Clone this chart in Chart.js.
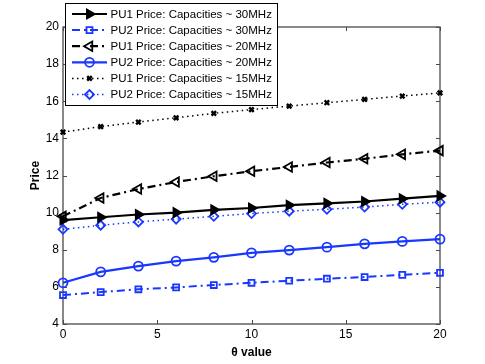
<!DOCTYPE html>
<html>
<head>
<meta charset="utf-8">
<script src="https://cdn.jsdelivr.net/npm/chart.js@4/dist/chart.umd.min.js"></script>
<style>
html,body{margin:0;padding:0;background:#fff;}
canvas{display:block;}
</style>
</head>
<body>
<canvas id="c" width="485" height="364"></canvas>
<script>
const thetaValues = [0, 2, 4, 6, 8, 10, 12, 14, 16, 18, 20];
const pu1Cap30 = [9.6, 9.75, 9.9, 10.0, 10.15, 10.25, 10.4, 10.5, 10.6, 10.75, 10.9];
const pu2Cap30 = [5.56, 5.72, 5.87, 5.97, 6.1, 6.22, 6.33, 6.44, 6.53, 6.65, 6.76];
const pu1Cap20 = [9.8, 10.79, 11.27, 11.65, 11.96, 12.23, 12.46, 12.7, 12.9, 13.14, 13.34];
const pu2Cap20 = [6.22, 6.81, 7.12, 7.39, 7.59, 7.83, 7.98, 8.14, 8.32, 8.45, 8.57];
const pu1Cap15 = [14.34, 14.63, 14.88, 15.11, 15.35, 15.55, 15.74, 15.92, 16.1, 16.28, 16.45];
const pu2Cap15 = [9.1, 9.32, 9.5, 9.65, 9.8, 9.95, 10.08, 10.18, 10.3, 10.45, 10.56];
const seriesLabels = [
  'PU1 Price: Capacities ~ 30MHz',
  'PU2 Price: Capacities ~ 30MHz',
  'PU1 Price: Capacities ~ 20MHz',
  'PU2 Price: Capacities ~ 20MHz',
  'PU1 Price: Capacities ~ 15MHz',
  'PU2 Price: Capacities ~ 15MHz'
];
const xTickValues = [0, 5, 10, 15, 20];
const yTickValues = [4, 6, 8, 10, 12, 14, 16, 18, 20];
const xTitle = 'θ value';
const yTitle = 'Price';

const BLACK = '#000000';
const BLUE = 'rgb(25,55,255)';
const FONT = '"Liberation Sans", Arial, Helvetica, sans-serif';
const DOT = [1.5, 3.5];
const DASHDOT = [8, 4, 2, 4];

function pts(arr) { return thetaValues.map((t, i) => ({x: t, y: arr[i]})); }

const styles = [
  {data: pu1Cap30, color: BLACK, dash: [], width: 2.2, pointStyle: 'triangle', rot: 90, radius: 5.5, fill: BLACK, pbw: 1.5},
  {data: pu2Cap30, color: BLUE, dash: DASHDOT, width: 2, pointStyle: 'rect', rot: 0, radius: 4.2, fill: 'rgba(0,0,0,0)', pbw: 1.8},
  {data: pu1Cap20, color: BLACK, dash: DASHDOT, width: 2.2, pointStyle: 'triangle', rot: -90, radius: 5.5, fill: 'rgba(0,0,0,0)', pbw: 1.8},
  {data: pu2Cap20, color: BLUE, dash: [], width: 2.2, pointStyle: 'circle', rot: 0, radius: 4.5, fill: 'rgba(0,0,0,0)', pbw: 1.8},
  {data: pu1Cap15, color: BLACK, dash: DOT, width: 1.5, pointStyle: 'crossRot', rot: 0, radius: 3.2, fill: BLACK, pbw: 2.4},
  {data: pu2Cap15, color: BLUE, dash: DOT, width: 1.5, pointStyle: 'rectRot', rot: 0, radius: 4.5, fill: 'rgba(0,0,0,0)', pbw: 1.8}
];

const datasets = styles.map((s, i) => ({
  label: seriesLabels[i],
  data: pts(s.data),
  borderColor: s.color,
  borderWidth: s.width,
  borderDash: s.dash,
  pointStyle: s.pointStyle,
  rotation: s.rot,
  pointRadius: s.radius,
  pointBorderColor: s.color,
  pointBackgroundColor: s.fill,
  pointBorderWidth: s.pbw,
  tension: 0,
  fill: false,
  clip: false
}));

const framePlugin = {
  id: 'frame',
  beforeDatasetsDraw(chart) {
    const ctx = chart.ctx;
    const a = chart.chartArea;
    const xs = chart.scales.x, ys = chart.scales.y;
    ctx.save();
    ctx.strokeStyle = '#4a4a4a';
    ctx.lineWidth = 1.3;
    ctx.strokeRect(a.left, a.top, a.right - a.left, a.bottom - a.top);
    const tl = 4;
    ctx.lineWidth = 1;
    ctx.beginPath();
    xTickValues.forEach(v => {
      const px = Math.round(xs.getPixelForValue(v)) + 0.5;
      ctx.moveTo(px, a.bottom); ctx.lineTo(px, a.bottom - tl);
      ctx.moveTo(px, a.top); ctx.lineTo(px, a.top + tl);
    });
    yTickValues.forEach(v => {
      const py = Math.round(ys.getPixelForValue(v)) + 0.5;
      ctx.moveTo(a.left, py); ctx.lineTo(a.left + tl, py);
      ctx.moveTo(a.right, py); ctx.lineTo(a.right - tl, py);
    });
    ctx.stroke();
    ctx.restore();
  }
};

const legendPlugin = {
  id: 'customLegend',
  afterDraw(chart) {
    const ctx = chart.ctx;
    const bx = 65.5, by = 3.5, bw = 212, bh = 102;
    ctx.save();
    ctx.fillStyle = '#fff';
    ctx.fillRect(bx, by, bw, bh);
    ctx.strokeStyle = '#000';
    ctx.lineWidth = 1;
    ctx.strokeRect(bx, by, bw, bh);
    chart.data.datasets.forEach((ds, i) => {
      const y = 14 + i * 16.1;
      ctx.save();
      ctx.strokeStyle = ds.borderColor;
      ctx.lineWidth = ds.borderWidth;
      ctx.setLineDash(ds.borderDash);
      ctx.beginPath();
      ctx.moveTo(72, y); ctx.lineTo(107, y);
      ctx.stroke();
      ctx.setLineDash([]);
      ctx.strokeStyle = ds.pointBorderColor;
      ctx.fillStyle = ds.pointBackgroundColor;
      ctx.lineWidth = ds.pointBorderWidth;
      Chart.helpers.drawPoint(ctx, {pointStyle: ds.pointStyle, rotation: ds.rotation, radius: ds.pointRadius, borderWidth: ds.pointBorderWidth}, 89.5, y);
      ctx.restore();
      ctx.fillStyle = '#000';
      ctx.font = '11.5px ' + FONT;
      ctx.textBaseline = 'middle';
      ctx.textAlign = 'left';
      ctx.fillText(ds.label, 110.5, y + 0.5);
    });
    ctx.restore();
  }
};

new Chart(document.getElementById('c'), {
  type: 'line',
  data: {datasets},
  options: {
    responsive: false,
    animation: false,
    events: [],
    layout: {padding: {top: 27, right: 45, left: 0, bottom: 0}},
    plugins: {legend: {display: false}, tooltip: {enabled: false}},
    scales: {
      x: {
        type: 'linear', min: 0, max: 20,
        afterBuildTicks(s) { s.ticks = xTickValues.map(v => ({value: v})); },
        afterFit(s) { s.height = 40; },
        ticks: {color: '#000', font: {family: FONT, size: 12}, padding: 3, maxRotation: 0, autoSkip: false},
        grid: {display: false, drawTicks: false},
        border: {display: false},
        title: {display: true, text: xTitle, color: '#000', font: {family: FONT, size: 12, weight: 'bold'}, padding: {top: 0, bottom: 4.5}}
      },
      y: {
        type: 'linear', min: 4, max: 20,
        afterBuildTicks(s) { s.ticks = yTickValues.map(v => ({value: v})); },
        afterFit(s) { s.width = 63; },
        ticks: {color: '#000', font: {family: FONT, size: 12}, padding: 4, autoSkip: false},
        grid: {display: false, drawTicks: false},
        border: {display: false},
        title: {display: true, text: yTitle, color: '#000', font: {family: FONT, size: 12, weight: 'bold'}, padding: {top: 28, bottom: 0}}
      }
    }
  },
  plugins: [framePlugin, legendPlugin]
});
</script>
</body>
</html>
